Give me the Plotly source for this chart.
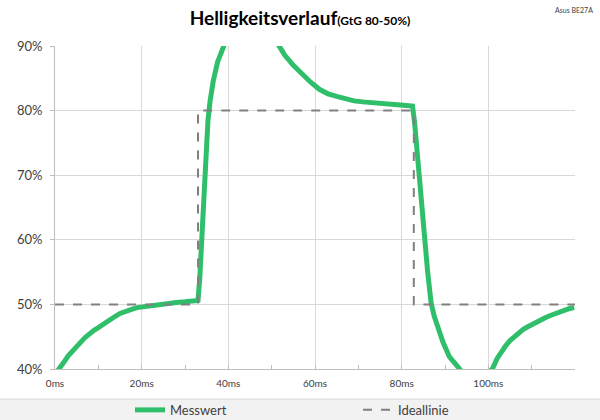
import plotly.graph_objects as go

# Measured brightness curve (ms, %)
t_mess = [0.0, 1.0, 2, 3, 4, 5, 6, 7, 8, 9, 10, 11, 12, 13, 14, 15, 16, 17, 18, 19, 20,
          22, 24, 26, 28, 30, 32, 33, 33.4, 33.8, 34.3, 34.8, 35.3, 35.8, 36.5, 37.5, 38.5,
          39.5, 41, 43, 45, 47, 49, 51, 53, 55, 57, 59, 61, 63, 65, 67, 69, 71, 73, 75, 77,
          79, 81, 82.5, 83, 83.5, 84, 84.6, 85.3, 86, 86.8, 87.5, 88.8, 89.5, 91, 92.5, 94,
          96, 98, 100, 101, 102, 103, 104, 105, 106, 107, 108, 109, 110, 111, 112, 113, 114,
          115, 116, 117, 118, 119, 119.8]
v_mess = [39.2, 40.0, 41.0, 42.0, 42.8, 43.6, 44.2, 44.9, 45.5, 46.0, 46.4, 46.9, 47.4, 47.8,
          48.2, 48.6, 48.9, 49.1, 49.3, 49.5, 49.6, 49.8, 50.0, 50.2, 50.3, 50.4, 50.5, 50.6,
          54, 60, 67, 73, 78.5, 81.5, 84.5, 87.5, 89.5, 91.5, 93.5, 95, 95.3, 94.6, 93.0, 90.8,
          88.6, 87.0, 85.6, 84.4, 83.3, 82.6, 82.2, 81.8, 81.5, 81.35, 81.2, 81.1, 81.0, 80.9,
          80.8, 80.7, 78, 74, 70, 65, 60, 55, 50.2, 48.2, 45.6, 44.2, 41.9, 40.6, 39.5, 38.5,
          38.5, 39.3, 40.1, 41.6, 42.7, 43.6, 44.4, 45.0, 45.6, 46.1, 46.5, 46.9, 47.3, 47.6,
          47.9, 48.2, 48.5, 48.8, 49.0, 49.2, 49.4, 49.5]

# Ideal line
t_ideal = [0, 33, 33, 82.8, 82.8, 120]
v_ideal = [50, 50, 80, 80, 50, 50]

x_ticks = [0, 20, 40, 60, 80, 100]
x_labels = ["0ms", "20ms", "40ms", "60ms", "80ms", "100ms"]
y_ticks = [40, 50, 60, 70, 80, 90]
y_labels = ["40%", "50%", "60%", "70%", "80%", "90%"]

FONT = "Lato"

fig = go.Figure()
fig.add_trace(go.Scatter(x=t_mess, y=v_mess, mode="lines", name="Messwert",
                         line=dict(color="#2fbf6a", width=5), legend="legend"))
fig.add_trace(go.Scatter(x=t_ideal, y=v_ideal, mode="lines", name="Ideallinie",
                         line=dict(color="#808080", width=2, dash="dash"), legend="legend2"))

leg_common = dict(orientation="h", xref="container", yref="container",
                  y=0.024, yanchor="middle", xanchor="left",
                  font=dict(size=13, color="#404040", family=FONT),
                  bgcolor="rgba(0,0,0,0)", borderwidth=0)

fig.update_layout(
    width=600, height=420,
    margin=dict(l=55, r=25, t=46, b=51, autoexpand=False),
    paper_bgcolor="white", plot_bgcolor="white",
    font=dict(family=FONT, color="#404040"),
    title=dict(text="<b>Helligkeitsverlauf</b><b><span style='font-size:12px'>(GtG 80-50%)</span></b>",
               x=0.5, xanchor="center", y=0.957, yanchor="middle",
               font=dict(size=19, color="#000000", family=FONT)),
    showlegend=True,
    legend=dict(x=130 / 600, **leg_common),
    legend2=dict(x=358 / 600, **leg_common),
    xaxis=dict(range=[0, 120], tickvals=x_ticks, ticktext=x_labels,
               showgrid=True, gridcolor="#d9d9d9", gridwidth=1,
               showline=True, linecolor="#bfbfbf", linewidth=1,
               ticks="inside", ticklen=4, tickcolor="#bfbfbf", ticklabelstandoff=5,
               minor=dict(dtick=10, ticks="inside", ticklen=4, tickcolor="#bfbfbf", showgrid=False),
               tickfont=dict(size=10, color="#404040", family=FONT), zeroline=False),
    yaxis=dict(range=[40, 90], tickvals=y_ticks, ticktext=y_labels,
               showgrid=True, gridcolor="#d9d9d9", gridwidth=1,
               showline=True, linecolor="#bfbfbf", linewidth=1,
               ticks="outside", ticklen=4, tickcolor="#bfbfbf", ticklabelstandoff=5,
               tickfont=dict(size=13, color="#404040", family=FONT), zeroline=False),
    shapes=[
        dict(type="rect", xref="paper", yref="paper", x0=-0.2, x1=1.2,
             y0=-0.0929, y1=-0.2, fillcolor="#f2f2f2", line=dict(width=0), layer="below"),
        dict(type="line", xref="paper", yref="paper", x0=-0.2, x1=1.2,
             y0=-0.0929, y1=-0.0929, line=dict(color="#d9d9d9", width=1)),
    ],
    annotations=[
        dict(text="Asus BE27A", xref="paper", yref="paper", x=1.0385, y=1.13,
             xanchor="right", yanchor="top", showarrow=False,
             font=dict(size=7, color="#404040", family=FONT)),
    ],
)

fig.write_html("out.html", config={"displayModeBar": False},
               post_script="document.body.style.margin='0';document.body.style.padding='0';")
